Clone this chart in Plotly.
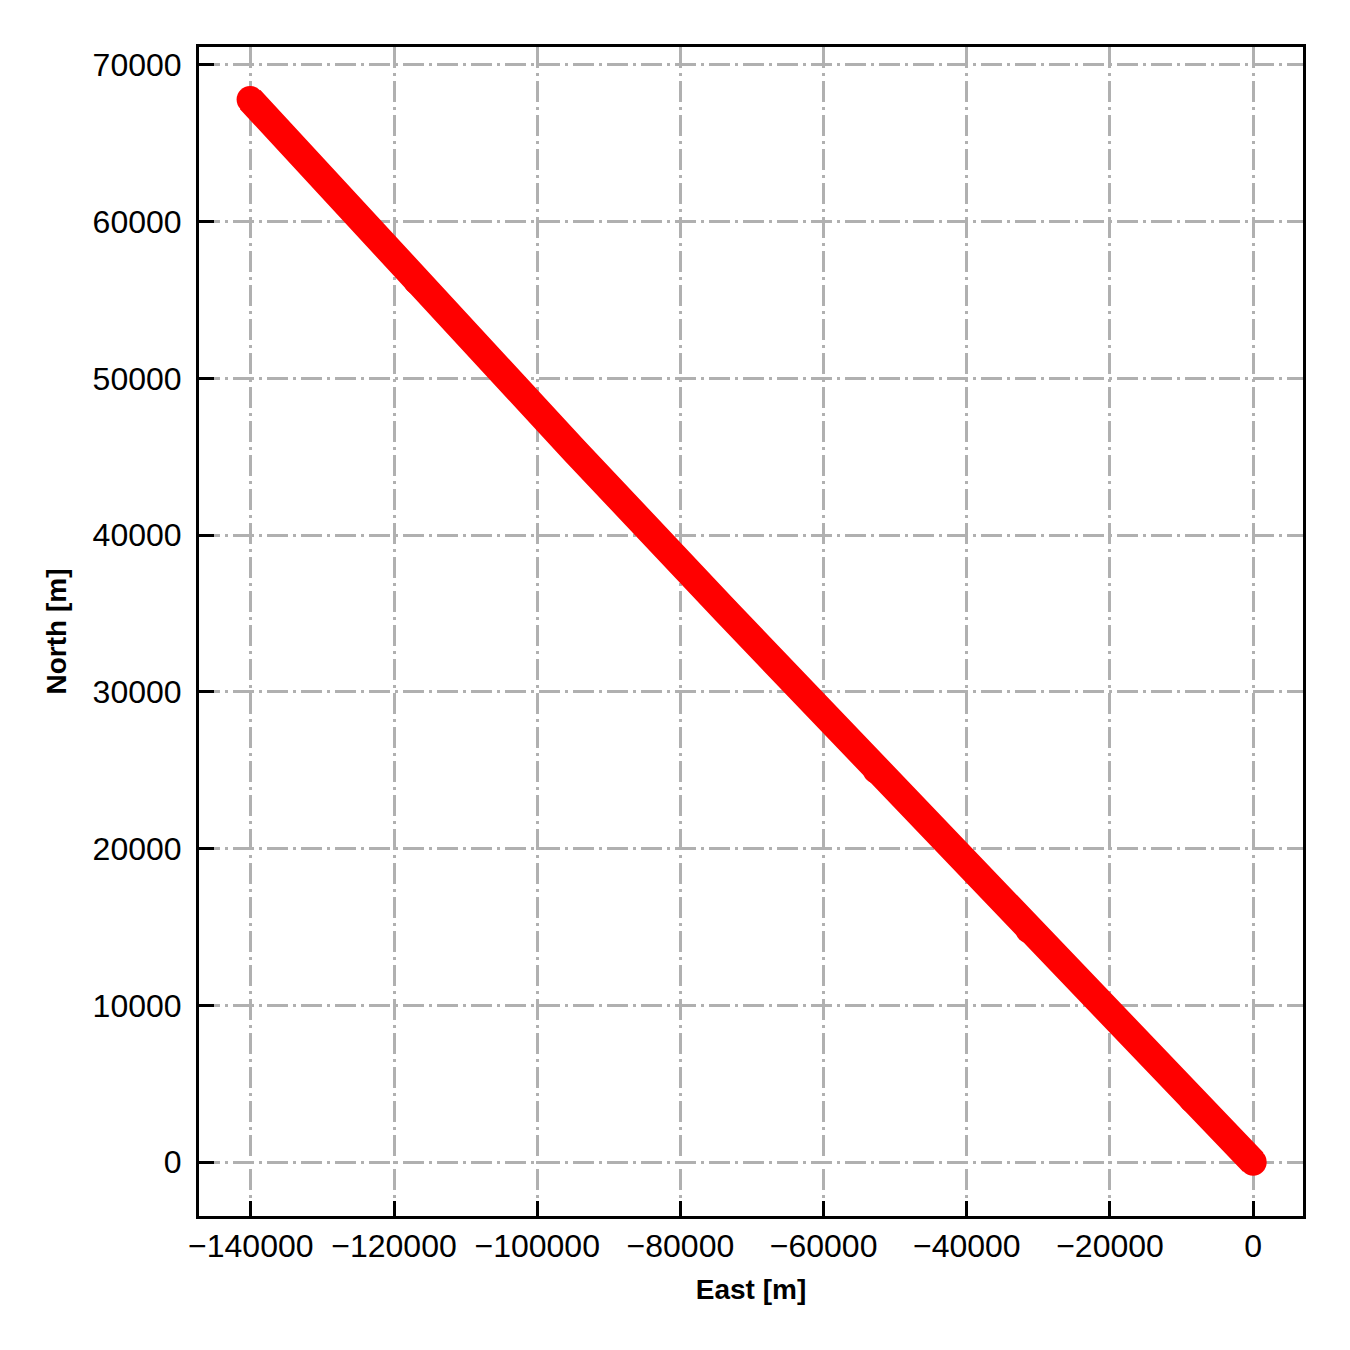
import plotly.graph_objects as go

# trajectory (metres)
east = [0, -8500, -31350, -52650, -73750, -94800, -116800, -140100]
north = [0, 4000, 14830, 25000, 35200, 45400, 56200, 67800]

x_ticks = [-140000, -120000, -100000, -80000, -60000, -40000, -20000, 0]
y_ticks = [0, 10000, 20000, 30000, 40000, 50000, 60000, 70000]

fig = go.Figure()

fig.add_trace(go.Scatter(
    x=east,
    y=north,
    mode='lines+markers',
    line=dict(color='#ff0000', width=28),
    marker=dict(color='#ff0000', size=27, line=dict(width=0)),
    showlegend=False,
))

grid = dict(
    showgrid=True,
    gridcolor='#b0b0b0',
    gridwidth=2.5,
    griddash='21px,5px,3px,5px',
    zeroline=False,
    showline=True,
    linecolor='black',
    linewidth=3,
    mirror=True,
    ticks='inside',
    ticklen=15,
    tickwidth=3,
    tickcolor='black',
    tickformat='d',
    tickfont=dict(family='Liberation Sans, Arial', size=32, color='black'),
)

fig.update_layout(
    width=1350,
    height=1350,
    margin=dict(l=191, r=55, t=39, b=142),
    plot_bgcolor='white',
    paper_bgcolor='white',
    xaxis=dict(
        grid,
        range=[-147236, 6958],
        tickvals=x_ticks,
        ticklabelstandoff=0,
        title=dict(text='<b>East [m]</b>', standoff=16,
                   font=dict(family='Liberation Sans, Arial', size=28, color='black')),
    ),
    yaxis=dict(
        grid,
        range=[-3436, 71145],
        tickvals=y_ticks,
        ticklabelstandoff=8,
        title=dict(text='<b>North [m]</b>', standoff=18,
                   font=dict(family='Liberation Sans, Arial', size=28, color='black')),
    ),
)

fig.write_html("out.html")
